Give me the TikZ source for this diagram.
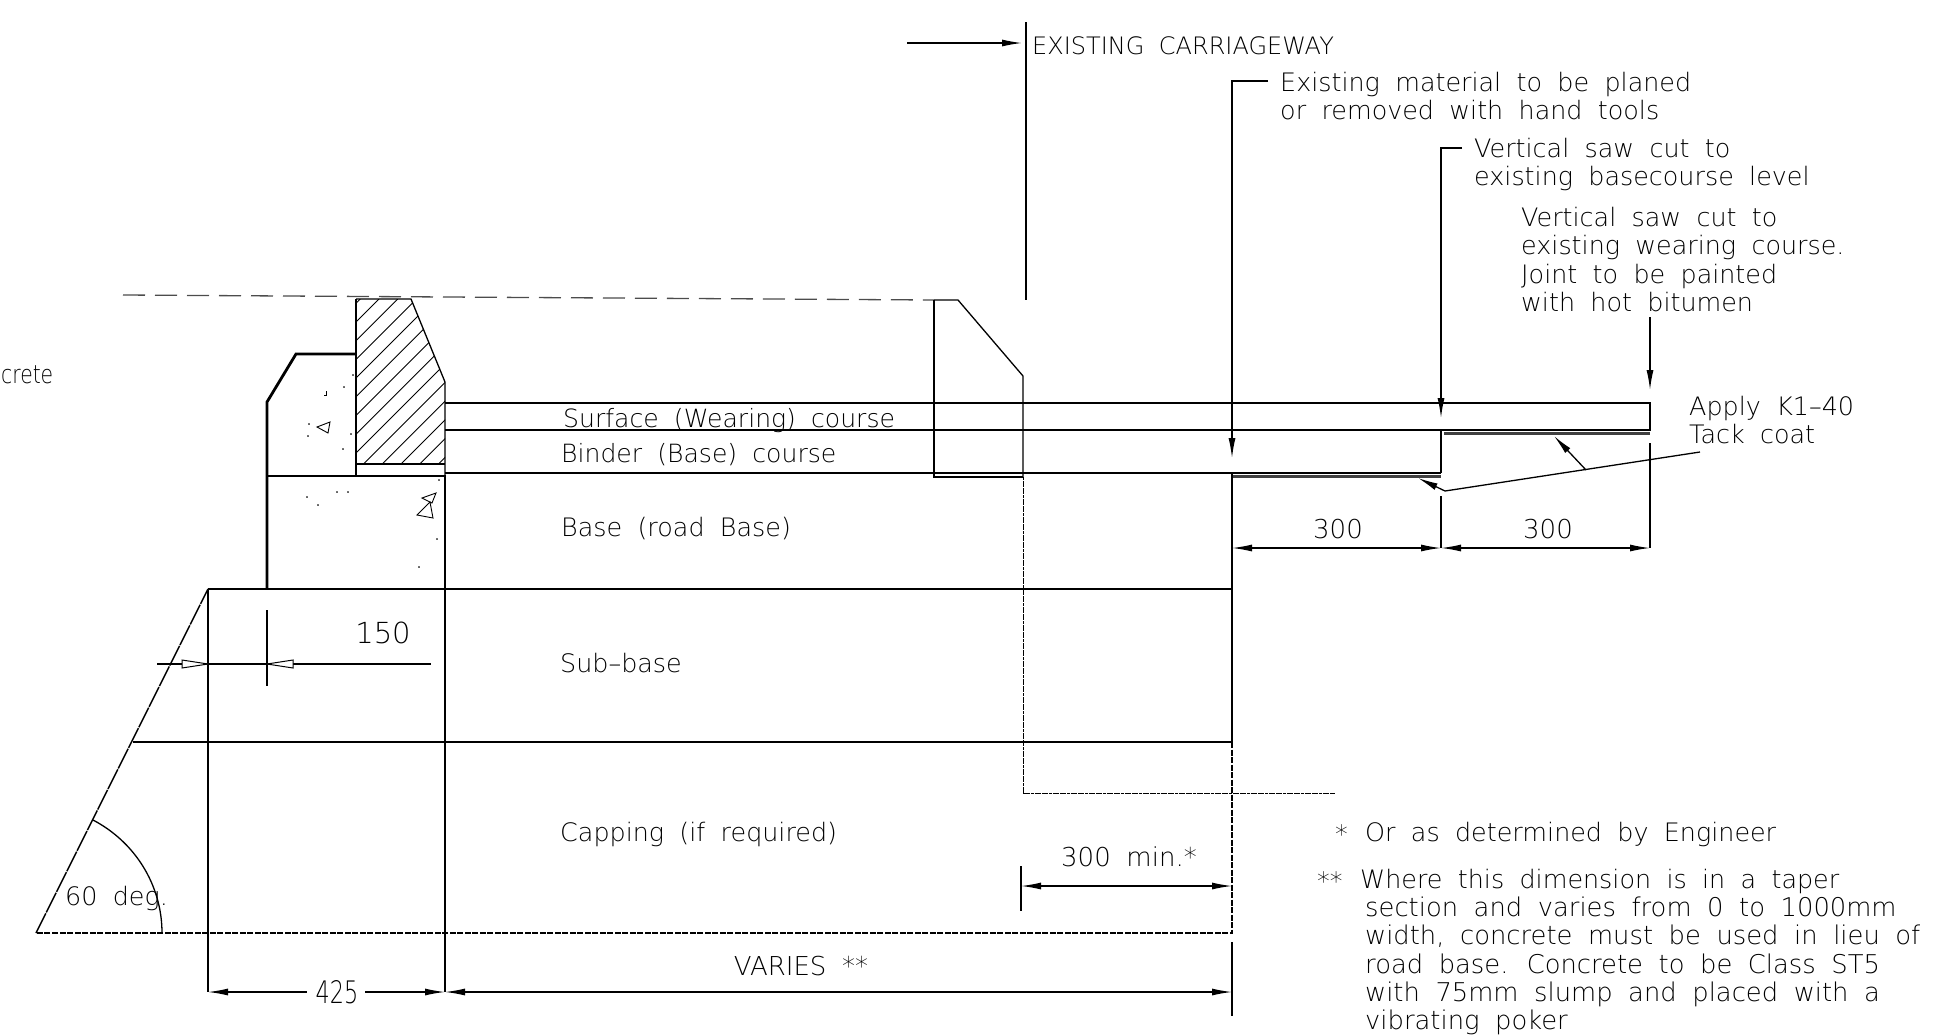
\documentclass[tikz,border=0pt]{standalone}
\usepackage{fontspec}
\setmainfont[WordSpace=1.9]{DejaVu Sans ExtraLight}
\usetikzlibrary{arrows.meta}
\tikzset{
    dwgline/.style={black, line width=1.3pt},
    heavyline/.style={black, line width=2.8pt},
    tackline/.style={black!75, line width=3pt},
    fineline/.style={black, line width=1pt, dash pattern=on 3pt off 0.6pt},
    breakline/.style={black, line width=1.8pt, dash pattern=on 6pt off 1.5pt},
    slopeline/.style={black, line width=1.5pt, dash pattern=on 22pt off 1pt},
    dimarrow/.style={dwgline, -{Latex[length=20pt, width=7pt]}},
    bothdim/.style={dwgline, {Latex[length=20pt, width=7pt]}-{Latex[length=20pt, width=7pt]}},
    dwgtext/.style={anchor=west, inner sep=0pt, align=left, font=\fontsize{25.4}{28.3}\selectfont},
    dimtext/.style={inner sep=0pt, font=\fontsize{26}{30}\selectfont}
}
\begin{document}
\begin{tikzpicture}[x=1pt, y=-1pt]
                \useasboundingbox (0, 0) rectangle (1933, 1034);
                \begin{scope}
                    \clip (356, 299) -- (411, 299) -- (445, 382) -- (445, 464) -- (356, 464) -- cycle;
                    \foreach \hatchpos in {0, 1, ..., 13}
                        \draw [black, line width=0.9pt] ({360.3 + 18.7*\hatchpos}, 299) -- ({360.3 + 18.7*\hatchpos - 190}, 489);
                \end{scope}
                \draw [dwgline] (356, 299) -- (411, 299) -- (445, 382) -- (445, 476);
                \draw [dwgline] (356, 299) -- (356, 354);
                \draw [heavyline] (356, 464) -- (445, 464);
                \draw [heavyline] (356, 354) -- (296, 354) -- (267, 402) -- (267, 589);
                \draw [heavyline] (356, 354) -- (356, 476);
                \draw [heavyline] (267, 476) -- (445, 476) -- (445, 589);
                \draw [heavyline] (267, 589) -- (445, 589);
                \foreach \dotx/\doty in {353/375, 344/387, 309/424, 308/436, 351/434, 343/449, 439/480, 307/497, 337/492, 348/492, 318/505, 437/539, 419/567}
                    \filldraw [black] (\dotx, \doty) circle (0.5pt);
                \draw [black, line width=0.9pt] (317, 427) -- (330, 422) -- (328, 433) -- cycle;
                \draw [black, line width=0.9pt] (422, 498) -- (436, 493) -- (432, 503) -- cycle;
                \draw [black, line width=0.9pt] (417, 515) -- (430, 502) -- (433, 518) -- cycle;
                \draw [black, line width=1pt] (326, 391) -- (326, 395) -- (324, 395);

                \draw [black!70, line width=1.3pt, dash pattern=on 22pt off 10pt] (123, 295) -- (934, 300);
                \draw [dwgline] (1026, 22) -- (1026, 300);
                \draw [dimarrow] (907, 43) -- (1022, 43);
                \draw [dwgline] (934, 300) -- (958, 300) -- (1023, 376) -- (1023, 477);
                \draw [dwgline] (934, 300) -- (934, 477) -- (1023, 477);
                \draw [fineline] (1023, 477) -- (1023, 793) -- (1335, 793);

                \draw [dwgline] (445, 403) -- (1650, 403) -- (1650, 430) -- (445, 430);
                \draw [dwgline] (445, 473) -- (1441, 473);
                \draw [heavyline] (1441, 430) -- (1441, 473);
                \draw [tackline] (1232, 476) -- (1441, 476);
                \draw [tackline] (1444, 433) -- (1650, 433);

                \draw [dwgline] (208, 589) -- (1232, 589);
                \draw [dwgline] (133, 742) -- (1232, 742);
                \draw [dwgline] (1232, 474) -- (1232, 742);
                \draw [breakline] (1232, 742) -- (1232, 933) -- (36, 933);
                \draw [slopeline] (36, 933) -- (208, 589);
                \draw [dwgline] (93, 820) .. controls (135, 842) and (162, 885) .. (162, 933);
                \draw [dwgline] (208, 589) -- (208, 992);
                \draw [dwgline] (445, 589) -- (445, 992);
                \draw [dwgline] (1232, 942) -- (1232, 1016);
                \draw [dwgline] (1021, 866) -- (1021, 911);
                \draw [dwgline] (1441, 496) -- (1441, 548);
                \draw [dwgline] (1650, 443) -- (1650, 548);
                \draw [dwgline] (267, 610) -- (267, 686);

                \draw [dimarrow] (1268, 81) -- (1232, 81) -- (1232, 458);
                \draw [dimarrow] (1462, 148) -- (1441, 148) -- (1441, 418);
                \draw [dimarrow] (1650, 317) -- (1650, 390);
                \draw [dwgline] (1700, 452) -- (1445, 491);
                \draw [dimarrow] (1445, 491) -- (1418, 478);
                \draw [dimarrow] (1586, 470) -- (1554, 436);

                \draw [bothdim] (1232, 548) -- (1441, 548);
                \draw [bothdim] (1441, 548) -- (1650, 548);
                \draw [bothdim] (1021, 886) -- (1232, 886);
                \draw [bothdim] (445, 992) -- (1232, 992);
                \draw [dwgline, {Latex[length=20pt, width=7pt]}-] (208, 992) -- (307, 992);
                \draw [dwgline, -{Latex[length=20pt, width=7pt]}] (365, 992) -- (445, 992);
                \draw [dwgline] (157, 664) -- (431, 664);
                \draw [black, line width=1pt, fill=white] (208, 664) -- (182, 660) -- (182, 668) -- cycle;
                \draw [black, line width=1pt, fill=white] (267, 664) -- (293, 660) -- (293, 668) -- cycle;

                \node [dwgtext, font=\fontsize{24}{28.3}\selectfont] (carriagelabel) at (1032, 46) {EXISTING CARRIAGEWAY};
                \node [dwgtext] (planedlabel) at (1280, 96) {Existing material to be planed\\or removed with hand tools};
                \node [dwgtext] (basecutlabel) at (1474, 164.5) {Vertical saw cut to\\existing basecourse level};
                \node [dwgtext] (wearcutlabel) at (1521, 259.5) {Vertical saw cut to\\existing wearing course.\\Joint to be painted\\with hot bitumen};
                \node [dwgtext] (tacklabel) at (1689, 420) {Apply K1--40\\Tack coat};
                \node [dwgtext, font=\fontsize{25.1}{28.3}\selectfont] (surfacelabel) at (563, 420.5) {Surface (Wearing) course};
                \node [dwgtext, font=\fontsize{25.1}{28.3}\selectfont] (binderlabel) at (561, 455) {Binder (Base) course};
                \node [dwgtext] (baselabel) at (561, 528.5) {Base (road Base)};
                \node [dwgtext] (subbaselabel) at (560, 663) {Sub--base};
                \node [dwgtext] (cappinglabel) at (560, 834.5) {Capping (if required)};
                \node [dwgtext] (anglelabel) at (65, 898) {60 deg.};
                \node [dwgtext, xscale=0.8] (concretelabel) at (1, 375) {crete};
                \node [dwgtext] (starmark) at (1335, 834) {*};
                \node [dwgtext] (engineerlabel) at (1365, 834) {Or as determined by Engineer};
                \node [dwgtext] (twostarmark) at (1317, 881) {**};
                \node [dwgtext] (taperlabel) at (1360, 881) {Where this dimension is in a taper};
                \node [dwgtext, font=\fontsize{25.8}{28.3}\selectfont] (notelabel) at (1365, 966) {section and varies from 0 to 1000mm\\width, concrete must be used in lieu of\\road base. Concrete to be Class ST5\\with 75mm slump and placed with a\\vibrating poker};
                \node [dimtext] (leftdimlabel) at (1338, 529) {300};
                \node [dimtext] (rightdimlabel) at (1548, 529) {300};
                \node [dimtext] (mindimlabel) at (1129, 857) {300 min.*};
                \node [dimtext] (variesdimlabel) at (801, 966) {VARIES **};
                \node [dimtext, font=\fontsize{29}{32}\selectfont] (offsetlabel) at (383, 633) {150};
                \node [dimtext, xscale=0.72, font=\fontsize{31}{34}\selectfont] (kerbdimlabel) at (337, 992) {425};
            \end{tikzpicture}
\end{document}
